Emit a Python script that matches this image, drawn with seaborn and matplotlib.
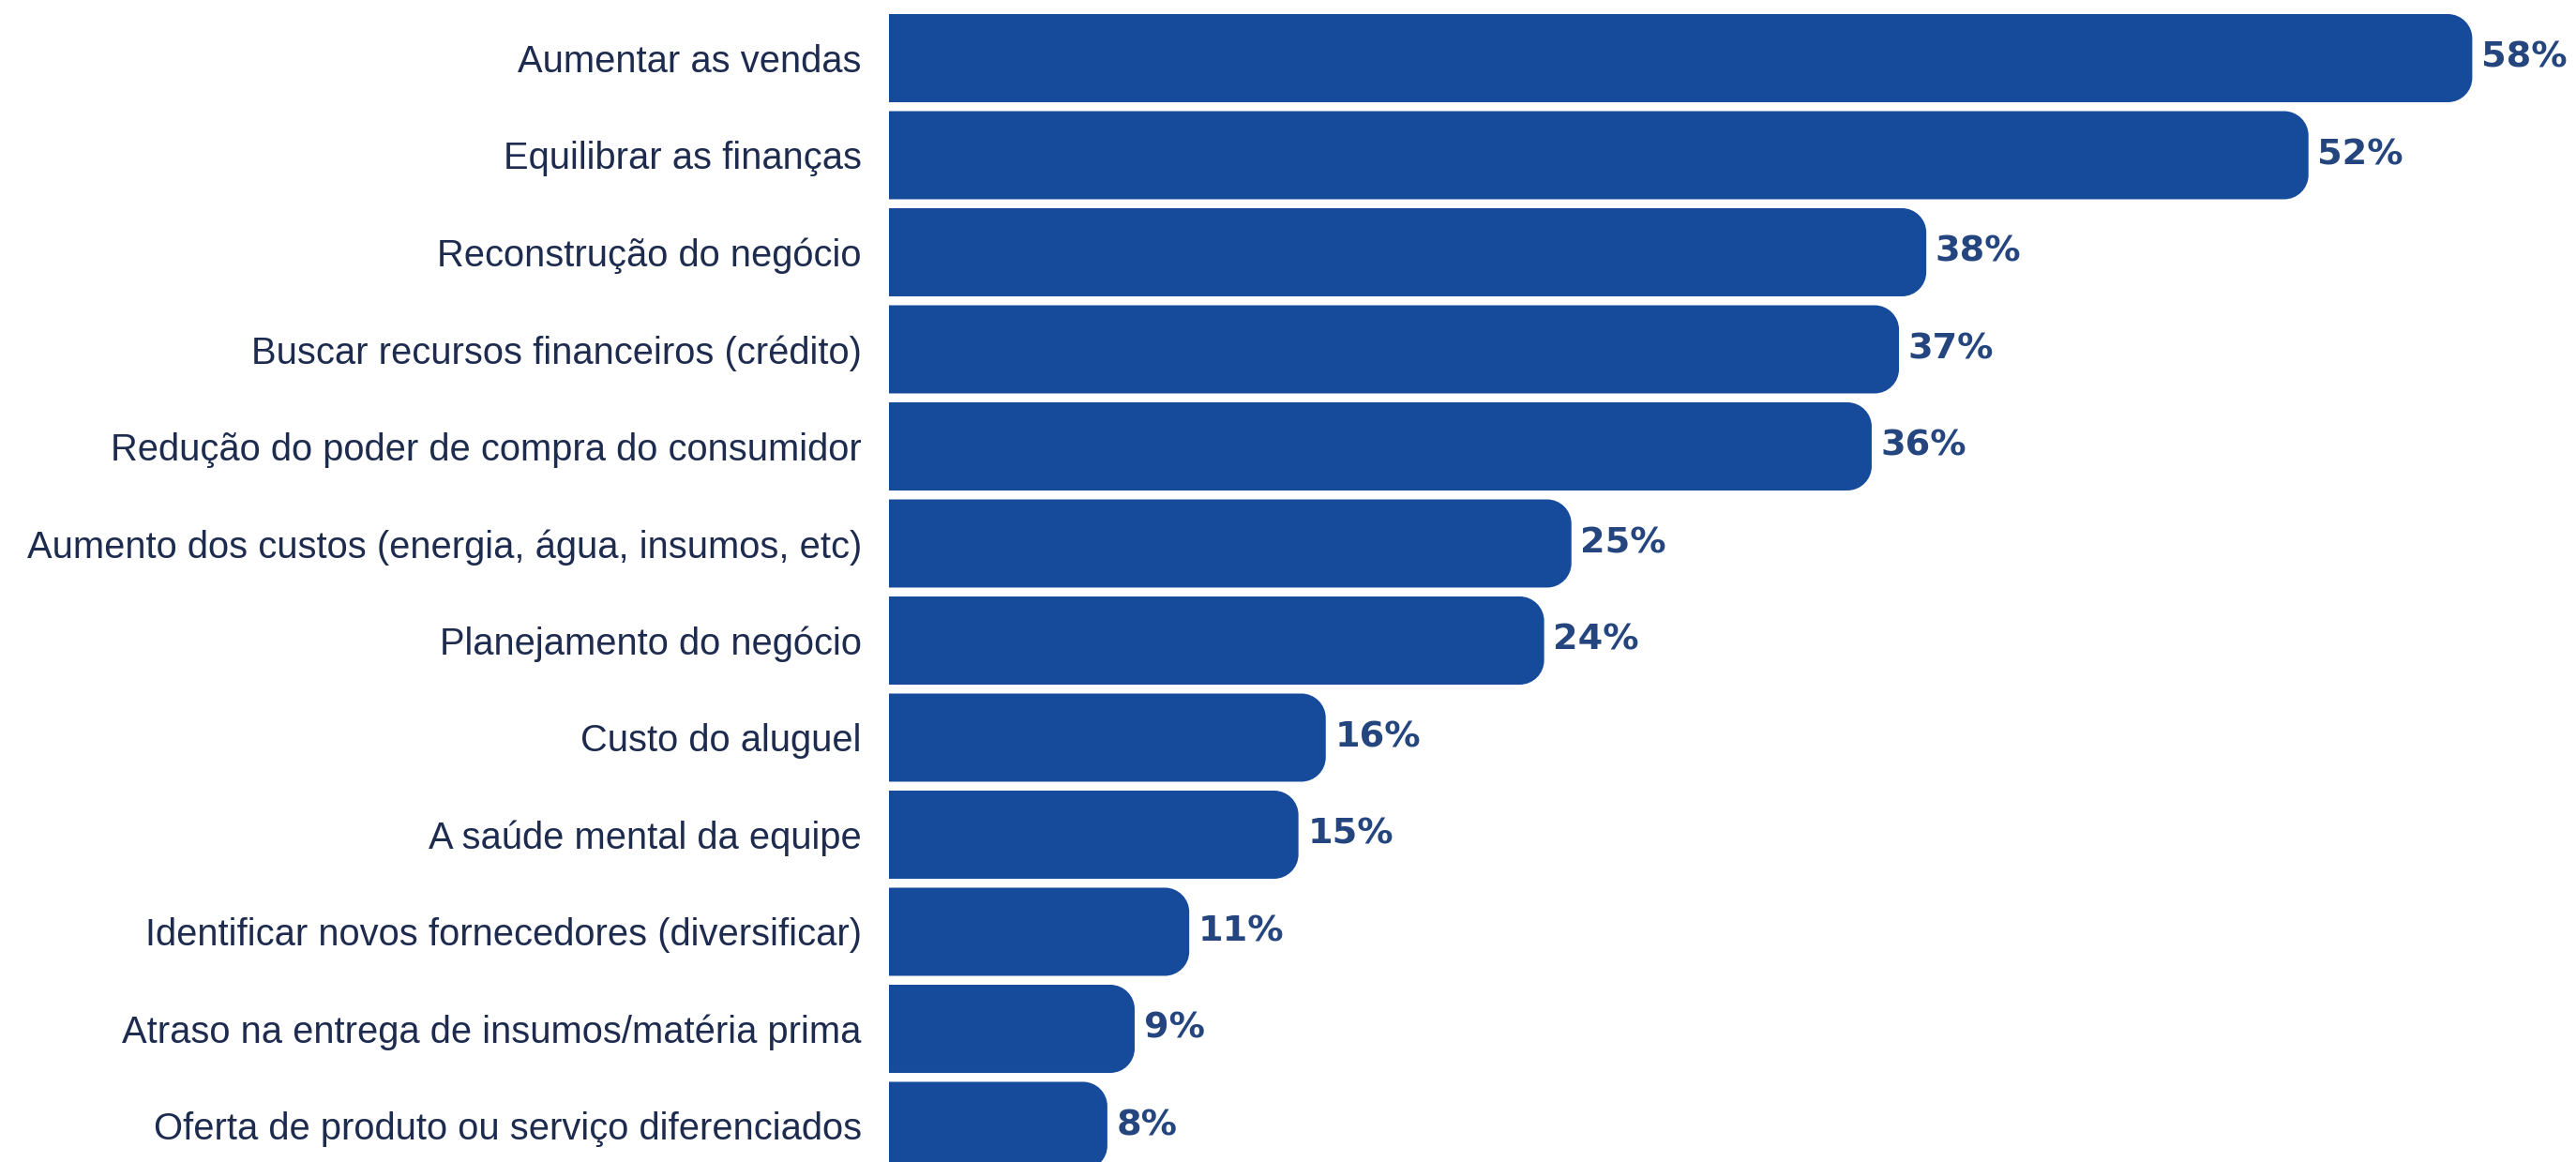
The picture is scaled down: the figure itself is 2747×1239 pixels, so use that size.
import matplotlib
matplotlib.use("Agg")
import matplotlib.pyplot as plt
from matplotlib.patches import PathPatch
from matplotlib.path import Path
import pandas as pd
import seaborn as sns

sns.set_theme(style="white")
plt.rcParams["font.family"] = ["Liberation Sans", "DejaVu Sans"]

categories = [
    "Aumentar as vendas",
    "Equilibrar as finanças",
    "Reconstrução do negócio",
    "Buscar recursos financeiros (crédito)",
    "Redução do poder de compra do consumidor",
    "Aumento dos custos (energia, água, insumos, etc)",
    "Planejamento do negócio",
    "Custo do aluguel",
    "A saúde mental da equipe",
    "Identificar novos fornecedores (diversificar)",
    "Atraso na entrega de insumos/matéria prima",
    "Oferta de produto ou serviço diferenciados",
]
values = [58, 52, 38, 37, 36, 25, 24, 16, 15, 11, 9, 8]

BAR_COLOR = "#164A9A"
LABEL_COLOR = "#1D2B4F"
VALUE_COLOR = "#24457E"

df = pd.DataFrame({"item": categories, "pct": values})

fig = plt.figure(figsize=(27.47, 12.39), dpi=100)
ax = fig.add_axes([0.3451, 0.0, 0.6549, 1.0])

sns.barplot(data=df, x="pct", y="item", orient="h", color=BAR_COLOR,
            width=0.908, saturation=1, ax=ax)

ax.set_xlim(0, 61.8)
ax.set_ylim(11.372, -0.599)

# swap each bar for a shape with only the right-hand corners rounded
px_x = 29.1   # pixels per percent
px_y = 103.5  # pixels per category step
rx, ry = 26 / px_x, 26 / px_y
k = 0.5523
for p in list(ax.patches):
    x0, y0 = p.get_x(), p.get_y()
    x1, y1 = x0 + p.get_width(), y0 + p.get_height()
    p.set_visible(False)
    verts = [
        (x0, y0), (x1 - rx, y0),
        (x1 - rx + k * rx, y0), (x1, y0 + ry - k * ry), (x1, y0 + ry),
        (x1, y1 - ry),
        (x1, y1 - ry + k * ry), (x1 - rx + k * rx, y1), (x1 - rx, y1),
        (x0, y1), (x0, y0),
    ]
    codes = [Path.MOVETO, Path.LINETO,
             Path.CURVE4, Path.CURVE4, Path.CURVE4,
             Path.LINETO,
             Path.CURVE4, Path.CURVE4, Path.CURVE4,
             Path.LINETO, Path.CLOSEPOLY]
    ax.add_patch(PathPatch(Path(verts, codes), facecolor=BAR_COLOR,
                           edgecolor="none"))

for i, v in enumerate(values):
    ax.text(v + 0.33, i, f"{v}%", va="center", ha="left",
            fontsize=27.5, fontweight="bold", color=VALUE_COLOR,
            family=["DejaVu Sans"])

ax.set_xlabel("")
ax.set_ylabel("")
ax.set_xticks([])
ax.tick_params(axis="y", length=0, pad=21, labelsize=28.7, labelcolor=LABEL_COLOR)
for s in ax.spines.values():
    s.set_visible(False)

fig.savefig("out.png", dpi=100)
